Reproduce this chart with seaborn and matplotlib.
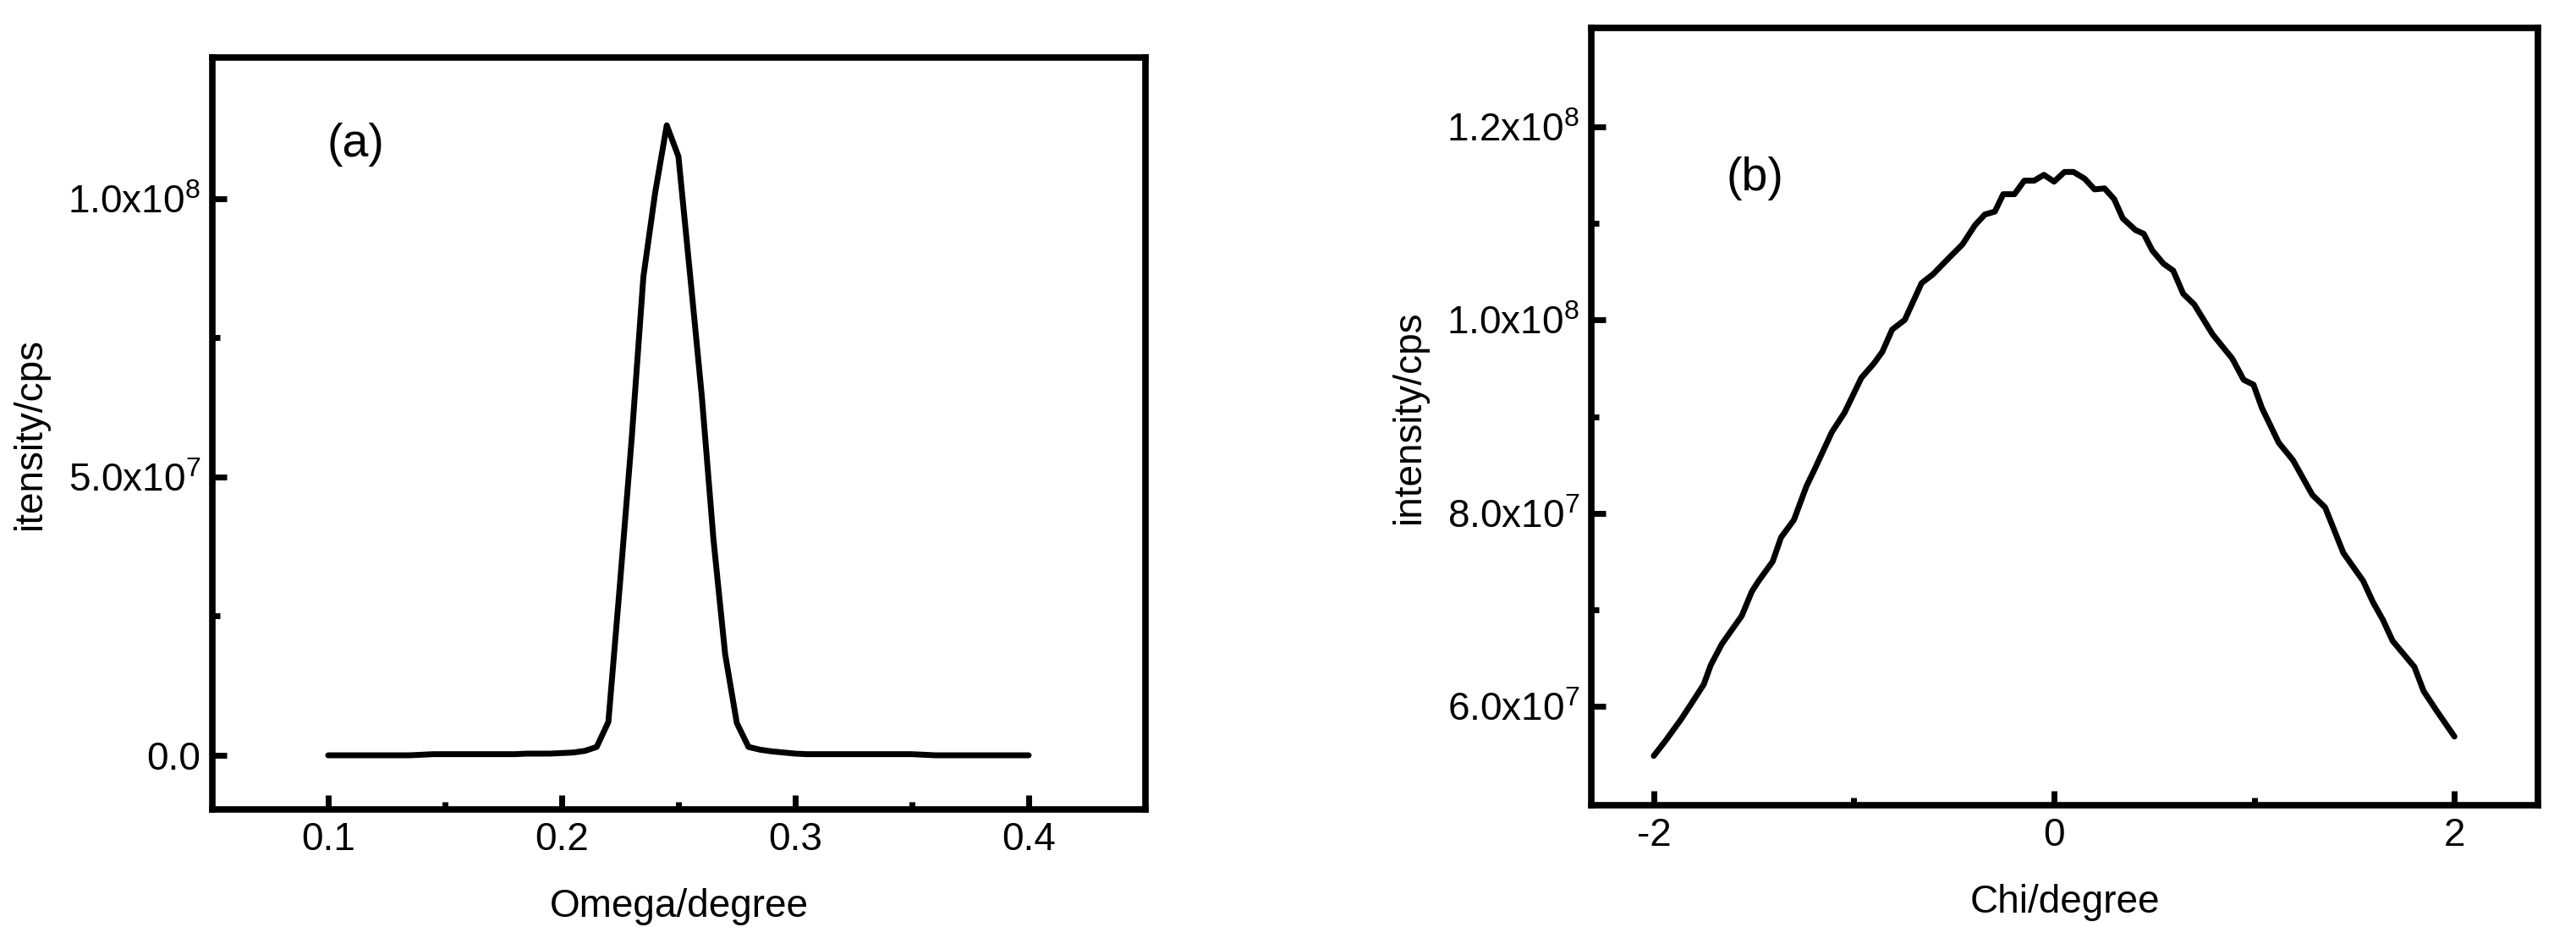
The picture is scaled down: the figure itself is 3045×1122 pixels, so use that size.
import numpy as np
import pandas as pd
import seaborn as sns
import matplotlib
matplotlib.use("Agg")
import matplotlib.pyplot as plt
from matplotlib.ticker import FixedLocator, FuncFormatter

# ---------------- data ----------------
# Panel (a): omega scan (intensity in units of 1e8 cps)
omega = [round(0.1 + 0.005 * i, 3) for i in range(61)]
omega_int_e8 = [
    0.000, 0.000, 0.000, 0.000, 0.000, 0.000, 0.000, 0.000, 0.001, 0.002,  # 0.100-0.145
    0.002, 0.002, 0.002, 0.002, 0.002, 0.002, 0.002, 0.003, 0.003, 0.003,  # 0.150-0.195
    0.004, 0.005, 0.008, 0.015, 0.060, 0.310, 0.570, 0.860, 1.010, 1.132,  # 0.200-0.245
    1.076, 0.863, 0.646, 0.388, 0.182, 0.058, 0.015, 0.010, 0.007, 0.005,  # 0.250-0.295
    0.003, 0.002, 0.002, 0.002, 0.002, 0.002, 0.002, 0.002, 0.002, 0.002,  # 0.300-0.345
    0.002, 0.001, 0.000, 0.000, 0.000, 0.000, 0.000, 0.000, 0.000, 0.000,  # 0.350-0.395
    0.000,                                                                  # 0.400
]

# Panel (b): chi scan (intensity in units of 1e7 cps)
chi = [-2.00, -1.94, -1.863, -1.806, -1.75, -1.715, -1.659, -1.56, -1.51, -1.476,
       -1.406, -1.364, -1.30, -1.237, -1.195, -1.11, -1.047, -0.963, -0.90, -0.858,
       -0.809, -0.746, -0.662, -0.606, -0.521, -0.458, -0.395, -0.346, -0.296, -0.254,
       -0.198, -0.149, -0.10, -0.051, 0.0, 0.052, 0.097, 0.153, 0.202, 0.252,
       0.30, 0.343, 0.406, 0.448, 0.49, 0.547, 0.595, 0.645, 0.70, 0.792,
       0.89, 0.947, 0.996, 1.038, 1.122, 1.193, 1.29, 1.354, 1.445, 1.544,
       1.593, 1.642, 1.691, 1.80, 1.846, 1.91, 2.00]
chi_int_e7 = [5.49, 5.65, 5.87, 6.05, 6.23, 6.43, 6.65, 6.94, 7.19, 7.30,
              7.50, 7.75, 7.93, 8.28, 8.46, 8.84, 9.04, 9.40, 9.55, 9.67,
              9.90, 10.00, 10.38, 10.47, 10.65, 10.78, 10.98, 11.09, 11.12, 11.30,
              11.30, 11.44, 11.44, 11.50, 11.43, 11.53, 11.53, 11.46, 11.35, 11.36,
              11.25, 11.05, 10.93, 10.89, 10.72, 10.58, 10.51, 10.27, 10.16, 9.85,
              9.60, 9.38, 9.33, 9.09, 8.73, 8.55, 8.19, 8.06, 7.59, 7.30,
              7.08, 6.90, 6.68, 6.41, 6.16, 5.96, 5.69]

panel_labels = ["(a)", "(b)"]
x_labels = ["Omega/degree", "Chi/degree"]
y_labels = ["itensity/cps", "intensity/cps"]

df_a = pd.DataFrame({"x": omega, "y": np.array(omega_int_e8) * 1e8})
df_b = pd.DataFrame({"x": chi, "y": np.array(chi_int_e7) * 1e7})

# ---------------- style ----------------
sns.set_theme(style="white")
plt.rcParams["font.family"] = ["Liberation Sans", "DejaVu Sans"]
plt.rcParams["mathtext.fontset"] = "custom"
plt.rcParams["mathtext.rm"] = "Liberation Sans"
plt.rcParams["mathtext.it"] = "Liberation Sans:italic"
plt.rcParams["mathtext.bf"] = "Liberation Sans:bold"
plt.rcParams["axes.unicode_minus"] = False

FS = 33
fig = plt.figure(figsize=(30.45, 11.22), dpi=100)
W, H = 3045, 1122
ax_a = fig.add_axes([251 / W, (H - 957) / H, (1354 - 251) / W, (957 - 68) / H])
ax_b = fig.add_axes([1881 / W, (H - 952) / H, (3000 - 1881) / W, (952 - 33) / H])


def sci_fmt(v, pos):
    if abs(v) < 1e-9:
        return "0.0"
    e = int(np.floor(np.log10(abs(v)) + 1e-9))
    m = v / 10 ** e
    return r"$\mathrm{%.1fx10^{%d}}$" % (m, e)


def plain_fmt(v, pos):
    return f"{v:g}"


for ax, df in [(ax_a, df_a), (ax_b, df_b)]:
    sns.lineplot(data=df, x="x", y="y", ax=ax, color="black", linewidth=5.0,
                 sort=False, estimator=None)
    for s in ax.spines.values():
        s.set_visible(True)
        s.set_linewidth(5.5)
        s.set_color("black")
    ax.tick_params(axis="both", which="both", direction="in", top=False, right=False,
                   bottom=True, left=True, colors="black", labelsize=FS)
    ax.tick_params(which="major", length=12.5, width=5)
    ax.tick_params(which="minor", length=6.5, width=5)
    ax.tick_params(axis="x", which="both", pad=10)
    ax.tick_params(axis="y", which="both", pad=10)
    ax.yaxis.set_major_formatter(FuncFormatter(sci_fmt))
    ax.set_facecolor("white")

# panel a axes
ax_a.set_xlim(0.0504, 0.45)
ax_a.set_ylim(-0.0973e8, 1.2538e8)
ax_a.xaxis.set_major_locator(FixedLocator([0.1, 0.2, 0.3, 0.4]))
ax_a.xaxis.set_minor_locator(FixedLocator([0.15, 0.25, 0.35]))
ax_a.yaxis.set_major_locator(FixedLocator([0.0, 0.5e8, 1.0e8]))
ax_a.yaxis.set_minor_locator(FixedLocator([0.25e8, 0.75e8]))
ax_a.xaxis.set_major_formatter(FuncFormatter(plain_fmt))

# panel b axes
ax_b.set_xlim(-2.312, 2.417)
ax_b.set_ylim(4.98e7, 1.302e8)
ax_b.xaxis.set_major_locator(FixedLocator([-2, 0, 2]))
ax_b.xaxis.set_minor_locator(FixedLocator([-1, 1]))
ax_b.yaxis.set_major_locator(FixedLocator([6e7, 8e7, 1.0e8, 1.2e8]))
ax_b.yaxis.set_minor_locator(FixedLocator([7e7, 9e7, 1.1e8]))
ax_b.xaxis.set_major_formatter(FuncFormatter(plain_fmt))

for ax, xl, yl, pl, pxy in [(ax_a, x_labels[0], y_labels[0], panel_labels[0], (0.154, 0.884)),
                            (ax_b, x_labels[1], y_labels[1], panel_labels[1], (0.1725, 0.806))]:
    ax.set_xlabel(xl, fontsize=FS, color="black", labelpad=25)
    ax.set_ylabel(yl, fontsize=FS, color="black", labelpad=16)
    ax.text(pxy[0], pxy[1], pl, transform=ax.transAxes, fontsize=40,
            ha="center", va="center", color="black")

fig.savefig("out.png", dpi=100, facecolor="white")
